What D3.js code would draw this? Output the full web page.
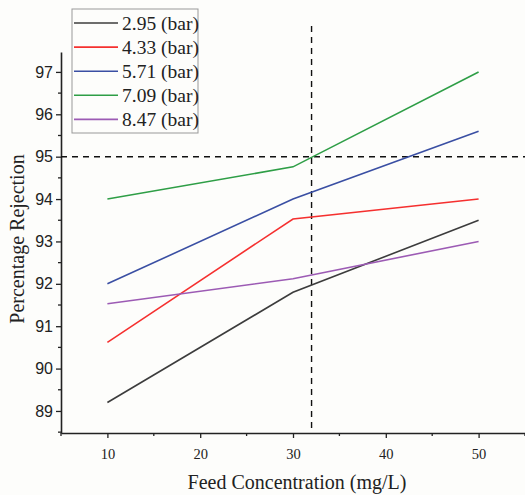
<!DOCTYPE html>
<html>
<head>
<meta charset="utf-8">
<script src="https://cdn.jsdelivr.net/npm/d3@7"></script>
<style>
  html, body { margin: 0; padding: 0; background: #fdfdfb; }
  svg { display: block; }
</style>
</head>
<body>
<svg id="chart" width="525" height="495"></svg>
<script>
// Feed concentration (mg/L) at which rejection was measured
const concentrations = [10, 30, 50];

// Pressure series labels
const seriesLabels = ["2.95 (bar)", "4.33 (bar)", "5.71 (bar)", "7.09 (bar)", "8.47 (bar)"];

// Percentage rejection for each pressure
const rej295 = [89.2, 91.8, 93.5];
const rej433 = [90.62, 93.53, 94.0];
const rej571 = [92.0, 94.0, 95.6];
const rej709 = [94.0, 94.76, 97.0];
const rej847 = [91.53, 92.12, 93.0];

const seriesColors = ["#3c3c3c", "#f5302f", "#3a4fa3", "#2e9e46", "#9c5bb4"];

// Tick values
const xTicks = [10, 20, 30, 40, 50];
const yTicks = [89, 90, 91, 92, 93, 94, 95, 96, 97];

// Reference guides
const refConcentration = 32;
const refRejection = 95;

const series = [rej295, rej433, rej571, rej709, rej847];

const svg = d3.select("#chart");
const plotLeft = 61, plotRight = 525, plotTop = 52, plotBottom = 433;

const x = d3.scaleLinear().domain([5, 55]).range([plotLeft, plotRight]);
const y = d3.scaleLinear().domain([88.48, 97.47]).range([plotBottom, plotTop]);

const tickFont = "'Liberation Sans', Arial, sans-serif";
const serif = "'Liberation Serif', 'Times New Roman', serif";

// minor ticks
const xMinor = d3.range(5, 56, 5).filter(v => !xTicks.includes(v));
const yMinor = d3.range(88.5, 97.5, 0.5).filter(v => !yTicks.includes(v));

const gx = svg.append("g").attr("transform", `translate(0,${plotBottom})`);
gx.call(d3.axisBottom(x).tickValues(xTicks).tickSize(5).tickSizeOuter(0).tickFormat(d3.format("d")));
gx.append("g").selectAll("line").data(xMinor).join("line")
  .attr("x1", d => x(d)).attr("x2", d => x(d)).attr("y1", 0).attr("y2", 3)
  .attr("stroke", "#222").attr("stroke-width", 1.3);

const gy = svg.append("g").attr("transform", `translate(${plotLeft},0)`);
gy.call(d3.axisLeft(y).tickValues(yTicks).tickSize(5).tickSizeOuter(0).tickFormat(d3.format("d")));
gy.append("g").selectAll("line").data(yMinor).join("line")
  .attr("y1", d => y(d)).attr("y2", d => y(d)).attr("x1", 0).attr("x2", -3)
  .attr("stroke", "#222").attr("stroke-width", 1.3);

[gx, gy].forEach(g => {
  g.select(".domain").attr("stroke", "#222").attr("stroke-width", 1.6);
  g.selectAll(".tick line").attr("stroke", "#222").attr("stroke-width", 1.3);
  g.selectAll(".tick text").attr("fill", "#222");
});
gx.selectAll(".tick text").attr("y", 26).attr("dy", null)
  .style("font-family", serif).style("font-size", "14.5px");
gy.selectAll(".tick text").attr("x", -8)
  .style("font-family", tickFont).style("font-size", "16px");

// Reference dashed lines
svg.append("line")
  .attr("x1", plotLeft).attr("x2", plotRight)
  .attr("y1", y(refRejection)).attr("y2", y(refRejection))
  .attr("stroke", "#111").attr("stroke-width", 1.4).attr("stroke-dasharray", "6,5");
svg.append("line")
  .attr("x1", x(refConcentration)).attr("x2", x(refConcentration))
  .attr("y1", 26).attr("y2", plotBottom)
  .attr("stroke", "#111").attr("stroke-width", 1.4).attr("stroke-dasharray", "6,5");

// Series lines
const line = d3.line().x((d, i) => x(concentrations[i])).y(d => y(d));
svg.append("g").selectAll("path").data(series).join("path")
  .attr("d", line)
  .attr("fill", "none")
  .attr("stroke", (d, i) => seriesColors[i])
  .attr("stroke-width", 1.6);

// Legend
const legend = svg.append("g");
legend.append("rect")
  .attr("x", 72).attr("y", 9).attr("width", 126).attr("height", 124)
  .attr("fill", "#fdfdfb").attr("stroke", "#999").attr("stroke-width", 1);
const rowY = i => 23 + i * 24.1;
seriesLabels.forEach((lab, i) => {
  legend.append("line")
    .attr("x1", 74).attr("x2", 118).attr("y1", rowY(i)).attr("y2", rowY(i))
    .attr("stroke", seriesColors[i]).attr("stroke-width", 1.6);
  legend.append("text")
    .attr("x", 122).attr("y", rowY(i)).attr("dy", "0.35em")
    .style("font-family", serif).style("font-size", "19.5px").attr("fill", "#222")
    .text(lab);
});

// Axis titles
svg.append("text")
  .attr("x", 297).attr("y", 489)
  .attr("text-anchor", "middle")
  .style("font-family", serif).style("font-size", "20px").attr("fill", "#222")
  .text("Feed Concentration (mg/L)");
svg.append("text")
  .attr("transform", `translate(24,239) rotate(-90)`)
  .attr("text-anchor", "middle")
  .style("font-family", serif).style("font-size", "20px").attr("fill", "#222")
  .text("Percentage Rejection");
</script>
</body>
</html>
